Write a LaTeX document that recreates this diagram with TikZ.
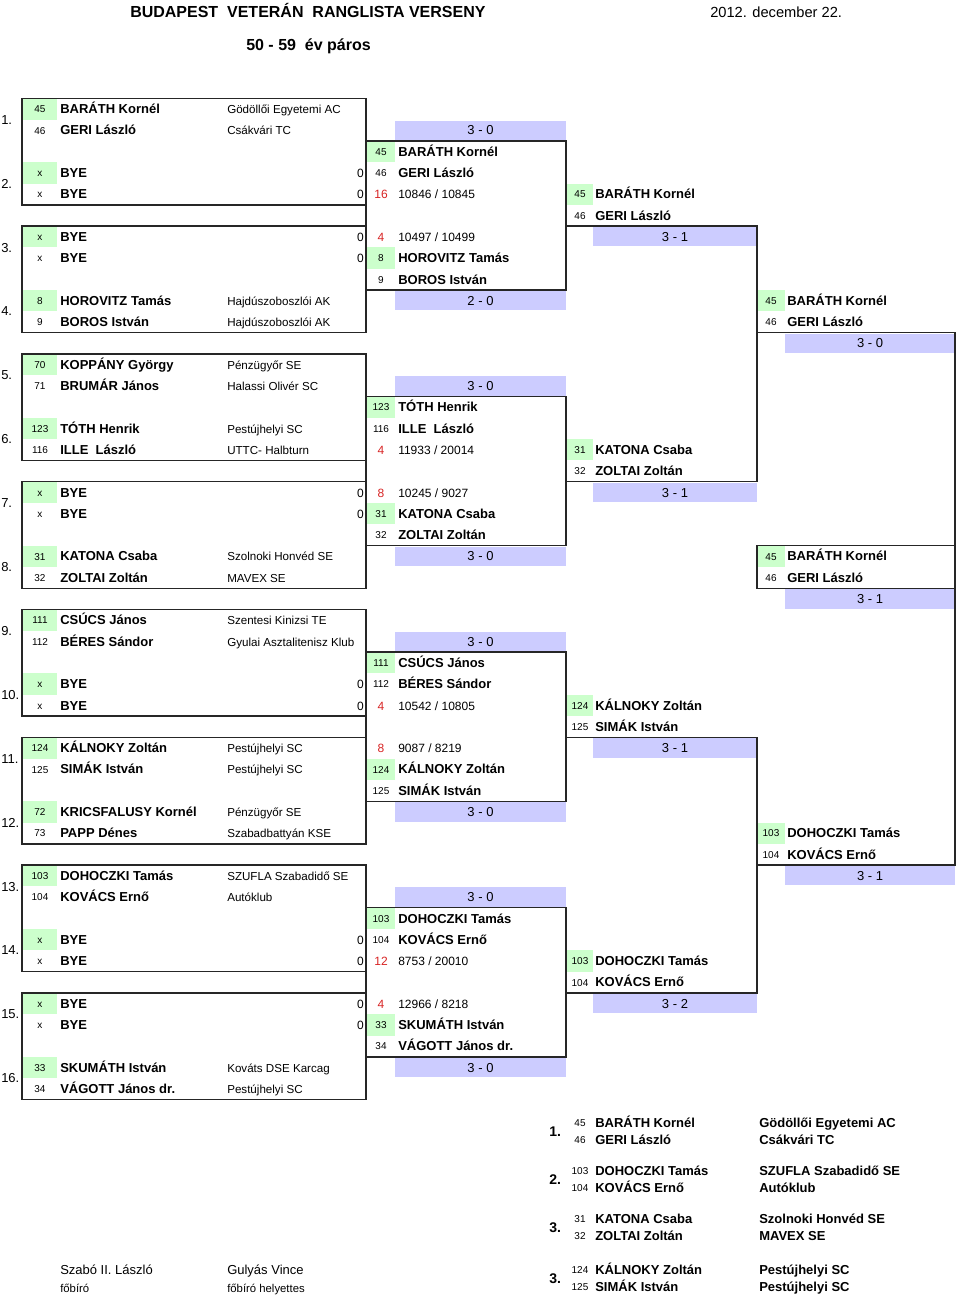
\documentclass[tikz,border=0pt]{standalone}
\usepackage{fontspec}
\setmainfont{Liberation Sans}

\definecolor{seedgreen}{RGB}{204,255,204}
\definecolor{scorelav}{RGB}{204,204,255}
\definecolor{seedred}{RGB}{215,35,35}

\begin{document}
\begin{tikzpicture}[
    x=0.75pt, y=-0.75pt,
    declare function={rt(\k)=98.35+21.3*\k; rb(\k)=113.6+21.3*\k; rs(\k)=112.7+21.3*\k;},
    ln/.style={line width=1.1pt, draw=black!85},
    nm/.style={anchor=base west, inner sep=0, font=\fontsize{9.75}{11}\selectfont\bfseries},
    club/.style={anchor=base west, inner sep=0, font=\fontsize{8.7}{10}\selectfont},
    sd/.style={anchor=base, inner sep=0, font=\fontsize{7.5}{9}\selectfont},
    rd/.style={anchor=base, inner sep=0, text=seedred, font=\fontsize{9}{10}\selectfont},
    rat/.style={anchor=base west, inner sep=0, font=\fontsize{9}{10}\selectfont},
    sc/.style={anchor=base, inner sep=0, font=\fontsize{9.75}{11}\selectfont},
    lbl/.style={anchor=base west, inner sep=0, font=\fontsize{9.75}{11}\selectfont},
    hd/.style={anchor=base west, inner sep=0, font=\fontsize{12}{14}\selectfont\bfseries},
]
\useasboundingbox (0,0) rectangle (960,1297);

% header
\node[hd] (title) at (130,17.7) {BUDAPEST\ \ VETERÁN\ \ RANGLISTA VERSENY};
\node[anchor=base west, inner sep=0, font=\fontsize{11}{13}\selectfont] (date) at (710,17.2) {2012. december 22.};
\node[hd] (cat) at (246,50.7) {50 - 59\ \ év páros};

% first round
\foreach \p/\sa/\na/\ca/\sb/\nb/\cb in {
  1/45/BARÁTH Kornél/Gödöllői Egyetemi AC/46/GERI László/Csákvári TC,
  4/8/HOROVITZ Tamás/Hajdúszoboszlói AK/9/BOROS István/Hajdúszoboszlói AK,
  5/70/KOPPÁNY György/Pénzügyőr SE/71/BRUMÁR János/Halassi Olivér SC,
  6/123/TÓTH Henrik/Pestújhelyi SC/116/ILLE~ László/UTTC- Halbturn,
  8/31/KATONA Csaba/Szolnoki Honvéd SE/32/ZOLTAI Zoltán/MAVEX SE,
  9/111/CSÚCS János/Szentesi Kinizsi TE/112/BÉRES Sándor/Gyulai Asztalitenisz Klub,
  11/124/KÁLNOKY Zoltán/Pestújhelyi SC/125/SIMÁK István/Pestújhelyi SC,
  12/72/KRICSFALUSY Kornél/Pénzügyőr SE/73/PAPP Dénes/Szabadbattyán KSE,
  13/103/DOHOCZKI Tamás/SZUFLA Szabadidő SE/104/KOVÁCS Ernő/Autóklub,
  16/33/SKUMÁTH István/Kováts DSE Karcag/34/VÁGOTT János dr./Pestújhelyi SC}{
  \pgfmathtruncatemacro{\r}{3*(\p-1)}
  \fill[seedgreen] (22,{rt(\r)}) rectangle (57,{rt(\r+1)});
  \node[sd] (sa\p) at (40,{rs(\r)}) {\sa};
  \node[nm] (na\p) at (60,{rb(\r)}) {\na};
  \node[club] (ca\p) at (227,{rb(\r)}) {\ca};
  \node[sd] (sb\p) at (40,{rs(\r+1)}) {\sb};
  \node[nm] (nb\p) at (60,{rb(\r+1)}) {\nb};
  \node[club] (cb\p) at (227,{rb(\r+1)}) {\cb};
}
\foreach \p in {2,3,7,10,14,15}{
  \pgfmathtruncatemacro{\r}{3*(\p-1)}
  \fill[seedgreen] (22,{rt(\r)}) rectangle (57,{rt(\r+1)});
  \node[sd] (sa\p) at (40,{rs(\r)}) {x};
  \node[nm] (na\p) at (60,{rb(\r)}) {BYE};
  \node[rat, anchor=base east] (za\p) at (364,{rb(\r)}) {0};
  \node[sd] (sb\p) at (40,{rs(\r+1)}) {x};
  \node[nm] (nb\p) at (60,{rb(\r+1)}) {BYE};
  \node[rat, anchor=base east] (zb\p) at (364,{rb(\r+1)}) {0};
}
\foreach \p in {1,...,16}
  \node[lbl] (lab\p) at (1,{rb(3*(\p-1))+10.65}) {\p.};

% second round
\foreach \r in {2,7,14,19,26,31,38,43}
  \fill[seedgreen] (366,{rt(\r)}) rectangle (395,{rt(\r+1)});
\foreach \r/\s/\n in {2/45/BARÁTH Kornél, 3/46/GERI László, 7/8/HOROVITZ Tamás,
  8/9/BOROS István, 14/123/TÓTH Henrik, 15/116/ILLE~ László, 19/31/KATONA Csaba,
  20/32/ZOLTAI Zoltán, 26/111/CSÚCS János, 27/112/BÉRES Sándor, 31/124/KÁLNOKY Zoltán,
  32/125/SIMÁK István, 38/103/DOHOCZKI Tamás, 39/104/KOVÁCS Ernő,
  43/33/SKUMÁTH István, 44/34/VÁGOTT János dr.}{
  \node[sd] (s2n\r) at (381,{rs(\r)}) {\s};
  \node[nm] (n2n\r) at (398,{rb(\r)}) {\n};
}
\foreach \r/\s/\a/\b in {4/16/10846/10845, 6/4/10497/10499, 16/4/11933/20014,
  18/8/10245/9027, 28/4/10542/10805, 30/8/9087/8219, 40/12/8753/20010, 42/4/12966/8218}{
  \node[rd] (r2s\r) at (381,{rb(\r)}) {\s};
  \node[rat] (r2t\r) at (398,{rb(\r)}) {\a\ / \b};
}
\foreach \r/\t in {1/3 - 0, 9/2 - 0, 13/3 - 0, 21/3 - 0, 25/3 - 0, 33/3 - 0, 37/3 - 0, 45/3 - 0}{
  \fill[scorelav] (395,{rt(\r)+1}) rectangle (566,{rt(\r+1)-1});
  \node[sc] (sc2n\r) at (480.5,{rb(\r)}) {\t};
}

% third round
\foreach \r/\s/\n/\g in {4/45/BARÁTH Kornél/1, 5/46/GERI László/0, 16/31/KATONA Csaba/1,
  17/32/ZOLTAI Zoltán/0, 28/124/KÁLNOKY Zoltán/1, 29/125/SIMÁK István/0,
  40/103/DOHOCZKI Tamás/1, 41/104/KOVÁCS Ernő/0}{
  \ifnum\g=1 \fill[seedgreen] (566,{rt(\r)}) rectangle (593,{rt(\r+1)}); \fi
  \node[sd] (s3n\r) at (580,{rs(\r)}) {\s};
  \node[nm] (n3n\r) at (595,{rb(\r)}) {\n};
}
\foreach \r/\t in {6/3 - 1, 18/3 - 1, 30/3 - 1, 42/3 - 2}{
  \fill[scorelav] (593,{rt(\r)+1}) rectangle (757,{rt(\r+1)-1});
  \node[sc] (sc3n\r) at (675,{rb(\r)}) {\t};
}

% fourth round
\foreach \r/\s/\n/\g in {9/45/BARÁTH Kornél/1, 10/46/GERI László/0, 21/45/BARÁTH Kornél/1,
  22/46/GERI László/0, 34/103/DOHOCZKI Tamás/1, 35/104/KOVÁCS Ernő/0}{
  \ifnum\g=1 \fill[seedgreen] (757,{rt(\r)}) rectangle (785,{rt(\r+1)}); \fi
  \node[sd] (s4n\r) at (771,{rs(\r)}) {\s};
  \node[nm] (n4n\r) at (787,{rb(\r)}) {\n};
}
\foreach \r/\t in {11/3 - 0, 23/3 - 1, 36/3 - 1}{
  \fill[scorelav] (785,{rt(\r)+1}) rectangle (955,{rt(\r+1)-1});
  \node[sc] (sc4n\r) at (870,{rb(\r)}) {\t};
}

% bracket lines
\foreach \b in {0,...,7}
  \draw[ln] (22,{rt(6*\b)}) rectangle (366,{rt(6*\b+5)});
\foreach \c in {0,...,3}
  \draw[ln] (366,{rt(12*\c+2)}) rectangle (566,{rt(12*\c+9)});
\foreach \r in {6,30}
  \draw[ln] (566,{rt(\r)}) -| (757,{rt(\r+12)}) -- (566,{rt(\r+12)});
\draw[ln] (757,{rt(11)}) -| (955,{rt(36)}) -- (757,{rt(36)});
\draw[ln] (757,{rt(21)}) rectangle (955,{rt(23)});

% final standings
\foreach \i/\k/\y/\sa/\na/\ca/\sb/\nb/\cb in {
  1/1/1123/45/BARÁTH Kornél/Gödöllői Egyetemi AC/46/GERI László/Csákvári TC,
  2/2/1171/103/DOHOCZKI Tamás/SZUFLA Szabadidő SE/104/KOVÁCS Ernő/Autóklub,
  3/3/1219/31/KATONA Csaba/Szolnoki Honvéd SE/32/ZOLTAI Zoltán/MAVEX SE,
  4/3/1270/124/KÁLNOKY Zoltán/Pestújhelyi SC/125/SIMÁK István/Pestújhelyi SC}{
  \node[anchor=base west, inner sep=0, font=\fontsize{10.5}{12}\selectfont\bfseries]
    (rank\i) at (549,{\y+13}) {\k.};
  \node[sd] (fsa\i) at (580,{\y+3.7}) {\sa};
  \node[nm] (fna\i) at (595,{\y+4.7}) {\na};
  \node[nm] (fca\i) at (759,{\y+4.7}) {\ca};
  \node[sd] (fsb\i) at (580,{\y+20.7}) {\sb};
  \node[nm] (fnb\i) at (595,{\y+21.7}) {\nb};
  \node[nm] (fcb\i) at (759,{\y+21.7}) {\cb};
}

% referees
\node[anchor=base west, inner sep=0, font=\fontsize{9.75}{11}\selectfont] (ref1) at (60,1274.7) {Szabó II. László};
\node[anchor=base west, inner sep=0, font=\fontsize{8.5}{10}\selectfont] (ref1t) at (60,1292) {főbíró};
\node[anchor=base west, inner sep=0, font=\fontsize{9.75}{11}\selectfont] (ref2) at (227,1274.7) {Gulyás Vince};
\node[anchor=base west, inner sep=0, font=\fontsize{8.5}{10}\selectfont] (ref2t) at (227,1292) {főbíró helyettes};
\end{tikzpicture}
\end{document}
